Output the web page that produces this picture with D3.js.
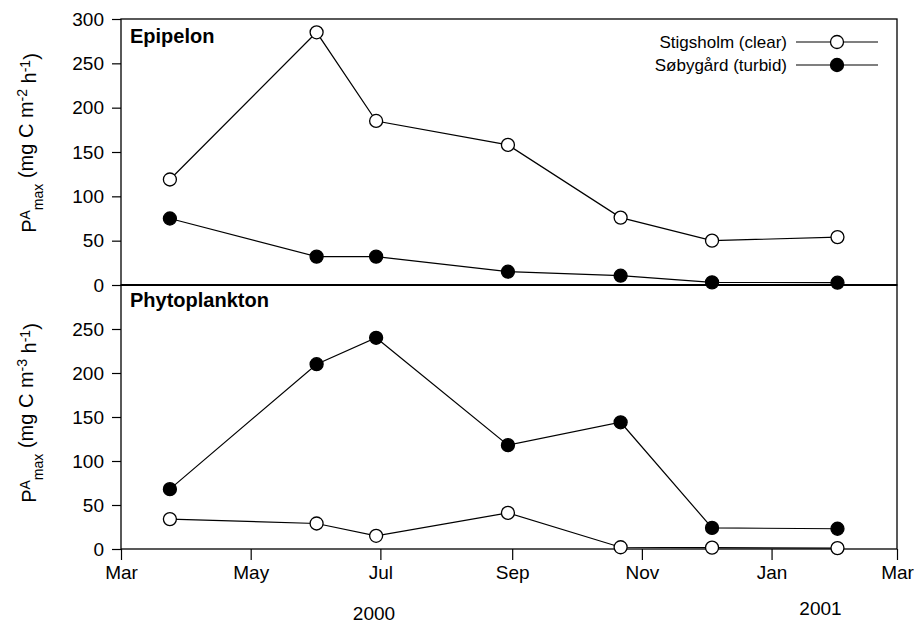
<!DOCTYPE html>
<html>
<head>
<meta charset="utf-8">
<script src="https://cdn.jsdelivr.net/npm/d3@7"></script>
<style>
  body { margin: 0; background: #fff; }
  text { font-family: "Liberation Sans", Arial, Helvetica, sans-serif; fill: #000; }
</style>
</head>
<body>
<svg id="chart" width="923" height="624"></svg>
<script>
// Sampling dates (both lakes sampled on the same days)
const sampleDates = ["2000-03-24", "2000-06-01", "2000-06-29", "2000-08-30", "2000-10-22", "2000-12-04", "2001-02-01"];

// Maximum photosynthesis, PA_max
const epipelonClear  = [119, 285, 185, 158, 76, 50, 54];
const epipelonTurbid = [75, 32, 32, 15, 10.5, 3, 2.6];
const phytoClear     = [34, 29, 15, 41, 2, 1.5, 1];
const phytoTurbid    = [68, 210, 240, 118, 144, 24, 23];

const seriesNames = ["Stigsholm (clear)", "Søbygård (turbid)"];
const panelNames = ["Epipelon", "Phytoplankton"];

// Axis ticks
const monthTicks = ["2000-03-01", "2000-05-01", "2000-07-01", "2000-09-01", "2000-11-01", "2001-01-01", "2001-03-01"];
const yTicksTop = [0, 50, 100, 150, 200, 250, 300];
const yTicksBottom = [0, 50, 100, 150, 200, 250];
const yearLabels = ["2000", "2001"];
const yearLabelDates = ["2000-06-28", "2001-01-24"];

const parse = d3.timeParse("%Y-%m-%d");
const svg = d3.select("#chart");

const plotLeft = 121, plotRight = 897, plotTop = 19, plotMid = 285, plotBottom = 549;

const x = d3.scaleTime()
  .domain([parse("2000-03-01"), parse("2001-03-01")])
  .range([plotLeft, plotRight]);
const yTop = d3.scaleLinear().domain([0, 300]).range([plotMid, plotTop]);
const yBot = d3.scaleLinear().domain([0, 300]).range([plotBottom, plotMid]);

const tickFont = "19px";

function styleAxis(g) {
  g.select(".domain").remove();
  g.selectAll(".tick line").attr("stroke", "#000").attr("stroke-width", 1.2);
  g.selectAll(".tick text").style("font-size", tickFont).attr("fill", "#000");
}

// Left axes
svg.append("g")
  .attr("transform", `translate(${plotLeft},0)`)
  .call(d3.axisLeft(yTop).tickValues(yTicksTop).tickSize(9).tickPadding(8))
  .call(styleAxis);
svg.append("g")
  .attr("transform", `translate(${plotLeft},0)`)
  .call(d3.axisLeft(yBot).tickValues(yTicksBottom).tickSize(9).tickPadding(8))
  .call(styleAxis);

// Bottom axis
svg.append("g")
  .attr("transform", `translate(0,${plotBottom})`)
  .call(d3.axisBottom(x).tickValues(monthTicks.map(parse))
    .tickFormat(d3.timeFormat("%b")).tickSize(11).tickPadding(6))
  .call(styleAxis);

// Year labels
svg.selectAll("text.year")
  .data(yearLabels)
  .join("text")
  .attr("class", "year")
  .attr("x", (d, i) => x(parse(yearLabelDates[i])))
  .attr("y", (d, i) => i === 0 ? 620 : 615)
  .attr("text-anchor", "middle")
  .style("font-size", tickFont)
  .text(d => d);

// Panel frames
[[plotTop, plotMid], [plotMid, plotBottom]].forEach(([y0, y1]) => {
  svg.append("rect")
    .attr("x", plotLeft).attr("y", y0)
    .attr("width", plotRight - plotLeft).attr("height", y1 - y0)
    .attr("fill", "none").attr("stroke", "#000").attr("stroke-width", 1.3);
});
svg.append("line")
  .attr("x1", plotLeft).attr("x2", plotRight).attr("y1", plotMid).attr("y2", plotMid)
  .attr("stroke", "#000").attr("stroke-width", 2.2);

// Y axis titles
function yTitle(cx, cy, exp) {
  const t = svg.append("text")
    .attr("transform", `translate(${cx},${cy}) rotate(-90)`)
    .attr("text-anchor", "middle")
    .style("font-size", "20px");
  t.append("tspan").text("P");
  t.append("tspan").attr("dy", "-0.42em").style("font-size", "14px").text("A");
  t.append("tspan").attr("dy", "0.9em").style("font-size", "14px").text("max");
  t.append("tspan").attr("dy", "-0.48em").text(" (mg C m");
  t.append("tspan").attr("dy", "-0.42em").style("font-size", "14px").text(exp);
  t.append("tspan").attr("dy", "0.42em").text(" h");
  t.append("tspan").attr("dy", "-0.42em").style("font-size", "14px").text("-1");
  t.append("tspan").attr("dy", "0.42em").text(")");
}
yTitle(36, 143, "-2");
yTitle(36, 413, "-3");

// Panel labels
svg.append("text").attr("x", 130).attr("y", 43)
  .style("font-size", "20px").style("font-weight", "bold").text(panelNames[0]);
svg.append("text").attr("x", 130).attr("y", 307)
  .style("font-size", "20px").style("font-weight", "bold").text(panelNames[1]);

// Series
const dates = sampleDates.map(parse);
function drawSeries(values, y, filled) {
  const pts = values.map((v, i) => [dates[i], v]);
  svg.append("path")
    .datum(pts)
    .attr("fill", "none").attr("stroke", "#000").attr("stroke-width", 1.2)
    .attr("d", d3.line().x(d => x(d[0])).y(d => y(d[1])));
  svg.append("g").selectAll("circle")
    .data(pts)
    .join("circle")
    .attr("cx", d => x(d[0])).attr("cy", d => y(d[1]))
    .attr("r", 6.5)
    .attr("fill", filled ? "#000" : "#fff")
    .attr("stroke", "#000").attr("stroke-width", 1.3);
}
drawSeries(epipelonTurbid, yTop, true);
drawSeries(epipelonClear, yTop, false);
drawSeries(phytoClear, yBot, false);
drawSeries(phytoTurbid, yBot, true);

// Legend
const legendRows = [42, 65];
seriesNames.forEach((name, i) => {
  const ly = legendRows[i];
  svg.append("text").attr("x", 787).attr("y", ly).attr("dy", "0.35em")
    .attr("text-anchor", "end").style("font-size", "17px").text(name);
  svg.append("line").attr("x1", 796).attr("x2", 878).attr("y1", ly).attr("y2", ly)
    .attr("stroke", "#000").attr("stroke-width", 1.2);
  svg.append("circle").attr("cx", 837).attr("cy", ly).attr("r", 6.5)
    .attr("fill", i === 0 ? "#fff" : "#000")
    .attr("stroke", "#000").attr("stroke-width", 1.3);
});
</script>
</body>
</html>
